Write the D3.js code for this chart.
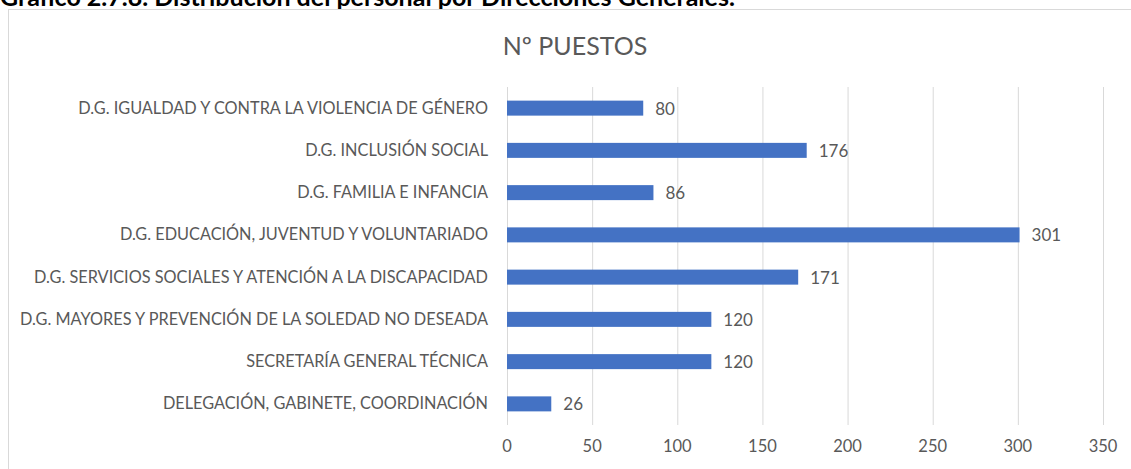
<!DOCTYPE html>
<html lang="es">
<head>
    <meta charset="UTF-8">
    <title>Nº puestos por Direcciones Generales</title>
    <script src="https://d3js.org/d3.v7.min.js"></script>
    <style>
        body { margin: 0; background: #fff; }
        svg { display: block; }
        text { font-family: Lato, 'Open Sans', sans-serif; fill: #595959; }
    </style>
</head>
<body>
    <div id="chart"></div>
    <script>
        // data (top to bottom)
        var categories = [
            'D.G. IGUALDAD Y CONTRA LA VIOLENCIA DE GÉNERO',
            'D.G. INCLUSIÓN SOCIAL',
            'D.G. FAMILIA E INFANCIA',
            'D.G. EDUCACIÓN, JUVENTUD Y VOLUNTARIADO',
            'D.G. SERVICIOS SOCIALES Y ATENCIÓN A LA DISCAPACIDAD',
            'D.G. MAYORES Y PREVENCIÓN DE LA SOLEDAD NO DESEADA',
            'SECRETARÍA GENERAL TÉCNICA',
            'DELEGACIÓN, GABINETE, COORDINACIÓN'
        ];
        var puestos = [80, 176, 86, 301, 171, 120, 120, 26];
        var xTicks = [0, 50, 100, 150, 200, 250, 300, 350];

        var svgwidth = 1131, svgheight = 469;
        var plotLeft = 507, plotRight = 1103, plotTop = 87, plotBottom = 425;

        var svg = d3.select('#chart').append('svg')
            .attr('width', svgwidth)
            .attr('height', svgheight);

        // document caption (cut off at the top)
        svg.append('text')
            .attr('x', 0)
            .attr('y', 6)
            .style('font-weight', 'bold')
            .style('font-size', '25px')
            .style('fill', '#000')
            .text('Gráfico 2.7.8. Distribución del personal por Direcciones Generales.');

        // chart frame
        svg.append('rect')
            .attr('x', 8.5)
            .attr('y', 9.5)
            .attr('width', 1140)
            .attr('height', 480)
            .attr('fill', '#fff')
            .attr('stroke', '#d9d9d9')
            .attr('stroke-width', 1);

        svg.append('text')
            .attr('x', 575)
            .attr('y', 55)
            .attr('text-anchor', 'middle')
            .style('font-size', '25px')
            .text('Nº PUESTOS');

        var x = d3.scaleLinear().domain([0, 350]).range([plotLeft, plotRight]);
        var y = d3.scaleBand().domain(categories).range([plotTop, plotBottom])
            .paddingInner(0.645).paddingOuter(0.3225);

        // vertical gridlines
        svg.append('g').selectAll('line')
            .data(xTicks)
            .enter().append('line')
            .attr('x1', d => x(d) + 0.5)
            .attr('x2', d => x(d) + 0.5)
            .attr('y1', plotTop)
            .attr('y2', plotBottom)
            .attr('stroke', '#d9d9d9')
            .attr('stroke-width', 1);

        // tick labels
        svg.append('g').selectAll('text')
            .data(xTicks)
            .enter().append('text')
            .attr('x', d => x(d))
            .attr('y', 452)
            .attr('text-anchor', 'middle')
            .style('font-size', '16.5px')
            .text(d => d);

        // category labels
        svg.append('g').selectAll('text')
            .data(categories)
            .enter().append('text')
            .attr('x', 488)
            .attr('y', d => y(d) + y.bandwidth() / 2 + 5.5)
            .attr('text-anchor', 'end')
            .style('font-size', '16.3px')
            .text(d => d);

        // bars
        svg.append('g').selectAll('rect')
            .data(puestos)
            .enter().append('rect')
            .attr('x', x(0))
            .attr('y', (d, i) => y(categories[i]))
            .attr('width', d => x(d) - x(0))
            .attr('height', y.bandwidth())
            .attr('fill', '#4472c4');

        // value labels
        svg.append('g').selectAll('text')
            .data(puestos)
            .enter().append('text')
            .attr('x', d => x(d) + 12)
            .attr('y', (d, i) => y(categories[i]) + y.bandwidth() / 2 + 6.5)
            .style('font-size', '17px')
            .text(d => d);
    </script>
</body>
</html>
